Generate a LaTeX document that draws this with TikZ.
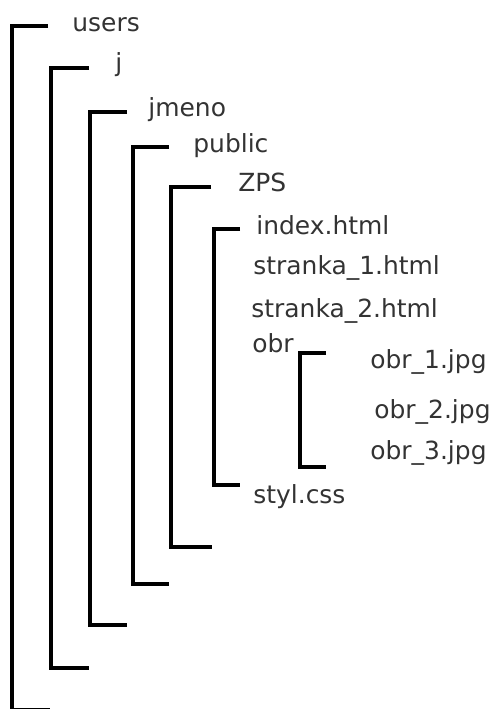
\documentclass[tikz,border=0pt]{standalone}
\usepackage{fontspec}
\setmainfont{DejaVu Sans}

\begin{document}
\begin{tikzpicture}[x=0.02cm, y=-0.02cm,
		soubor/.style={anchor=base west, inner sep=0pt, text=black!80, font=\fontsize{14.2}{17}\selectfont},
		zavorka/.style={line width=0.09cm, line join=miter}]
		\useasboundingbox (0,0) rectangle (494,709);

		% folder and file names
		\node[soubor] (users) at (72,32) {users};
		\node[soubor] (j) at (115,72) {j};
		\node[soubor] (jmeno) at (148,117) {jmeno};
		\node[soubor] (public) at (193,153) {public};
		\node[soubor] (zps) at (238,192) {ZPS};
		\node[soubor] (index) at (256,235) {index.html};
		\node[soubor] (stranka1) at (253,275) {stranka\_1.html};
		\node[soubor] (stranka2) at (251,317) {stranka\_2.html};
		\node[soubor] (obr) at (252,352) {obr};
		\node[soubor] (obr1) at (370,368) {obr\_1.jpg};
		\node[soubor] (obr2) at (374,418) {obr\_2.jpg};
		\node[soubor] (obr3) at (370,459) {obr\_3.jpg};
		\node[soubor] (styl) at (253,503) {styl.css};

		% bracket points: top end, bottom corner, bottom end
		\coordinate (usersT) at (48,26);
		\coordinate (usersC) at (12,710);
		\coordinate (usersE) at (50,710);
		\coordinate (jT) at (89,68);
		\coordinate (jC) at (51,668);
		\coordinate (jE) at (89,668);
		\coordinate (jmenoT) at (127,112);
		\coordinate (jmenoC) at (90,625);
		\coordinate (jmenoE) at (127,625);
		\coordinate (publicT) at (169,147);
		\coordinate (publicC) at (133,584);
		\coordinate (publicE) at (169,584);
		\coordinate (zpsT) at (211,187);
		\coordinate (zpsC) at (171,547);
		\coordinate (zpsE) at (212,547);
		\coordinate (indexT) at (240,229);
		\coordinate (indexC) at (214,485);
		\coordinate (indexE) at (240,485);
		\coordinate (obrT) at (326,353);
		\coordinate (obrC) at (300,467);
		\coordinate (obrE) at (326,467);

		% brackets
		\draw[zavorka] (usersT) -| (usersC) -- (usersE);
		\draw[zavorka] (jT) -| (jC) -- (jE);
		\draw[zavorka] (jmenoT) -| (jmenoC) -- (jmenoE);
		\draw[zavorka] (publicT) -| (publicC) -- (publicE);
		\draw[zavorka] (zpsT) -| (zpsC) -- (zpsE);
		\draw[zavorka] (indexT) -| (indexC) -- (indexE);
		\draw[zavorka] (obrT) -| (obrC) -- (obrE);
	\end{tikzpicture}
\end{document}
